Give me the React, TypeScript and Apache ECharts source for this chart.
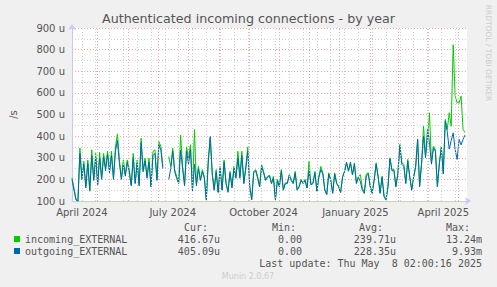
import React, { useEffect, useRef } from 'react';
import * as echarts from 'echarts';

const START_DATE = '2024-04-05';
const END_DATE = '2025-05-10';
const STEP_DAYS = 2;
const DAY = 86400000;

const seriesNames = ['incoming_EXTERNAL', 'outgoing_EXTERNAL'];
const seriesColors = ['#00cc00', '#0066b3'];

// values in micro (u) connections per second, one point every 2 days
const incoming = [
  207, 160, 110, 100, 345, 210, 283, 168, 290, 145,
  337, 200, 320, 180, 325, 205, 320, 255, 330, 245,
  330, 207, 350, 410, 290, 205, 290, 222, 290, 245,
  175, 320, 184, 290, 176, 390, 245, 298, 214, 298,
  168, 329, 337, 200, 375, 352, 260, null, null, 306,
  260, 344, 245, 214, 185, 405, 260, 176, 350, 300,
  360, 145, 430, 176, 260, 200, 245, 214, 108, 290,
  390, 230, 153, 245, 140, 260, 153, 290, 184, 145,
  237, 168, 260, 214, 330, 214, 330, 184, 260, 350,
  168, 108, 237, 245, 214, 168, 268, 237, 200, 214,
  220, 184, 214, 108, 200, 168, 245, 153, 184, 184,
  222, 200, 184, 237, 153, 168, 200, 184, 200, 161,
  283, 176, 184, 237, 146, 214, 260, 230, 153, 130,
  230, 200, 138, 230, 184, 168, 138, 214, 237, 275,
  237, 275, 222, 268, 184, 214, 222, 160, 140, 225,
  231, 169, 139, 200, 277, 215, 139, 215, 123, 108,
  169, 300, 246, 246, 169, 231, 362, 277, 269, 185,
  292, 215, 154, 215, 262, 385, 169, 277, 446, 308,
  385, 508, 277, 354, 338, 169, 277, 354, 231, 477,
  431, 508, 446, 823, 585, 554, 554, 585, 431, 417,
];

const outgoing = [
  200, 150, 105, 98, 320, 200, 270, 160, 275, 150,
  310, 195, 300, 175, 300, 200, 305, 240, 315, 230,
  310, 200, 330, 380, 275, 200, 270, 215, 280, 230,
  170, 300, 180, 275, 170, 370, 235, 285, 205, 280,
  165, 310, 320, 195, 360, 335, 250, null, null, 200,
  250, 330, 235, 205, 180, 335, 250, 170, 330, 270,
  340, 145, 270, 170, 250, 195, 235, 205, 105, 280,
  398, 225, 150, 235, 140, 250, 150, 280, 180, 140,
  230, 160, 250, 205, 300, 205, 310, 180, 250, 330,
  165, 105, 230, 240, 205, 165, 260, 230, 195, 210,
  215, 180, 205, 105, 195, 165, 240, 150, 180, 180,
  218, 195, 180, 230, 150, 165, 195, 180, 195, 160,
  240, 175, 180, 230, 145, 210, 245, 225, 150, 130,
  225, 195, 135, 225, 180, 165, 140, 210, 235, 280,
  240, 280, 220, 275, 180, 210, 190, 150, 135, 215,
  225, 165, 135, 195, 270, 210, 135, 210, 120, 105,
  165, 295, 240, 240, 165, 225, 355, 270, 260, 180,
  285, 210, 150, 210, 255, 385, 165, 270, 400, 300,
  430, 370, 270, 345, 330, 165, 270, 345, 225, 470,
  420, 340, 380, 415, 338, 292, 385, 360, 385, 405,
];

const monthStarts = [
  '2024-05-01', '2024-06-01', '2024-07-01', '2024-08-01', '2024-09-01',
  '2024-10-01', '2024-11-01', '2024-12-01', '2025-01-01', '2025-02-01',
  '2025-03-01', '2025-04-01', '2025-05-01',
];
const firstMinorGrid = '2024-04-15';
const minorGridDays = 14;

const xTickDates = ['2024-04-15', '2024-07-16', '2024-10-16', '2025-01-17', '2025-04-16'];
const xTickLabels = ['April 2024', 'July 2024', 'October 2024', 'January 2025', 'April 2025'];

const columnHeaders = ['Cur:', 'Min:', 'Avg:', 'Max:'];
const curValues = ['416.67u', '405.09u'];
const minValues = ['0.00', '0.00'];
const avgValues = ['239.71u', '228.35u'];
const maxValues = ['13.24m', '9.93m'];
const lastUpdate = 'Last update: Thu May  8 02:00:16 2025';

const FONT = 'DejaVu Sans';
const MONO = 'DejaVu Sans Mono';
const TEXT = '#555555';

export default function App() {
  const ref = useRef<HTMLDivElement>(null);
  useEffect(() => {
    if (!ref.current) return;
    const chart = echarts.init(ref.current, null, { renderer: 'svg' });
    const start = Date.parse(START_DATE);
    const end = Date.parse(END_DATE);
    const toPairs = (arr: (number | null)[]) =>
      arr.map((v, i) => [start + i * STEP_DAYS * DAY, v]);

    const minorLines: any[] = [];
    for (let t = Date.parse(firstMinorGrid); t < end; t += minorGridDays * DAY) {
      minorLines.push({ xAxis: t, lineStyle: { color: '#cfcfcf', type: [1, 2], width: 1 } });
    }
    const majorLines = monthStarts.map((d) => ({
      xAxis: Date.parse(d),
      lineStyle: { color: '#eca8a8', type: [1, 2], width: 1 },
    }));
    const labelLines = xTickDates.map((d, i) => ({
      xAxis: Date.parse(d),
      name: xTickLabels[i],
      lineStyle: { color: 'rgba(0,0,0,0)', width: 1 },
      label: {
        show: true,
        position: 'start',
        formatter: '{b}',
        distance: 6,
        color: TEXT,
        fontFamily: FONT,
        fontSize: 10,
      },
    }));

    const colRightHeader = [208, 296, 383, 470];
    const colRightValue = [220, 302, 396, 482];
    const valueCols = [curValues, minValues, avgValues, maxValues];
    const graphics: any[] = [];
    columnHeaders.forEach((h, i) => {
      graphics.push({
        type: 'text', x: colRightHeader[i], y: 227,
        style: { text: h, textAlign: 'right', textVerticalAlign: 'middle', fontFamily: MONO, fontSize: 10, fill: TEXT },
      });
    });
    valueCols.forEach((col, i) => {
      col.forEach((v, r) => {
        graphics.push({
          type: 'text', x: colRightValue[i], y: 239 + r * 12,
          style: { text: v, textAlign: 'right', textVerticalAlign: 'middle', fontFamily: MONO, fontSize: 10, fill: TEXT },
        });
      });
    });
    graphics.push({
      type: 'text', x: 482, y: 263,
      style: { text: lastUpdate, textAlign: 'right', textVerticalAlign: 'middle', fontFamily: MONO, fontSize: 10, fill: TEXT },
    });
    graphics.push({
      type: 'text', x: 248, y: 276,
      style: { text: 'Munin 2.0.67', textAlign: 'center', textVerticalAlign: 'middle', fontFamily: FONT, fontSize: 8, fill: '#cccccc' },
    });
    graphics.push({
      type: 'text', x: 488, y: 53, rotation: -Math.PI / 2,
      style: { text: 'RRDTOOL / TOBI OETIKER', textAlign: 'center', textVerticalAlign: 'middle', fontFamily: FONT, fontSize: 7.5, fill: '#cccccc' },
    });

    chart.setOption({
      animation: false,
      backgroundColor: '#f0f0f0',
      title: {
        text: 'Authenticated incoming connections - by year',
        left: 'center',
        top: 12,
        padding: 0,
        textStyle: { fontFamily: FONT, fontSize: 12.7, fontWeight: 'normal', color: TEXT },
      },
      legend: {
        orient: 'vertical',
        left: 14,
        top: 233,
        padding: 0,
        itemWidth: 6,
        itemHeight: 6,
        itemGap: 0,
        icon: 'rect',
        selectedMode: false,
        data: seriesNames,
        textStyle: { fontFamily: MONO, fontSize: 10, color: TEXT, lineHeight: 12 },
      },
      grid: { left: 67, right: 30, top: 28, bottom: 86, show: true, backgroundColor: '#ffffff', borderWidth: 0 },
      xAxis: {
        type: 'time',
        min: start,
        max: end,
        axisLabel: { show: false },
        axisTick: { show: false },
        splitLine: { show: false },
        axisLine: {
          show: true,
          lineStyle: { color: '#c8c8ff', width: 1 },
          symbol: ['none', 'arrow'],
          symbolSize: [6, 6],
          symbolOffset: [0, 4],
        },
      },
      yAxis: {
        type: 'value',
        min: 100,
        max: 900,
        interval: 100,
        name: '/s',
        nameLocation: 'middle',
        nameRotate: 90,
        nameGap: 54,
        nameTextStyle: { fontFamily: FONT, fontSize: 10, color: TEXT },
        axisLabel: {
          formatter: (v: number) => v + ' u',
          fontFamily: FONT,
          fontSize: 10,
          color: TEXT,
          margin: 7,
        },
        axisTick: { show: false },
        axisLine: {
          show: true,
          lineStyle: { color: '#c8c8ff', width: 1 },
          symbol: ['none', 'arrow'],
          symbolSize: [6, 6],
          symbolOffset: [0, 4],
        },
        splitLine: { show: true, lineStyle: { color: '#eca8a8', type: [1, 2], width: 1 } },
        minorTick: { show: false, splitNumber: 2 },
        minorSplitLine: { show: true, lineStyle: { color: '#cfcfcf', type: [1, 2], width: 1 } },
      },
      series: [
        {
          name: 'grid',
          type: 'line',
          data: [],
          z: 1,
          silent: true,
          markLine: {
            silent: true,
            symbol: ['none', 'none'],
            label: { show: false },
            emphasis: { disabled: true },
            data: [...minorLines, ...majorLines, ...labelLines],
          },
        },
        {
          name: seriesNames[0],
          type: 'line',
          data: toPairs(incoming),
          showSymbol: false,
          z: 3,
          color: seriesColors[0],
          lineStyle: { color: seriesColors[0], width: 1 },
        },
        {
          name: seriesNames[1],
          type: 'line',
          data: toPairs(outgoing),
          showSymbol: false,
          z: 4,
          color: seriesColors[1],
          lineStyle: { color: seriesColors[1], width: 1 },
        },
      ],
      graphic: graphics,
    });
    return () => chart.dispose();
  }, []);
  return (
    <div
      ref={ref}
      style={{ position: 'fixed', left: 0, top: 0, width: 497, height: 287, background: '#f0f0f0' }}
    />
  );
}
